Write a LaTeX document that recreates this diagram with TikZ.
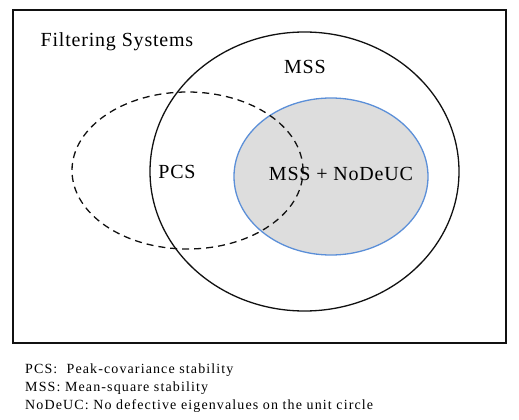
\documentclass[tikz,border=0pt]{standalone}
\usepackage{fontspec}
\setmainfont{Liberation Serif}
\newfontfamily\setfont[LetterSpace=4]{Liberation Serif}
\newfontfamily\keyfont[LetterSpace=8]{Liberation Serif}
\usepackage{tikz}
\usetikzlibrary{positioning,shapes.geometric}
\definecolor{ink}{HTML}{111111}
\definecolor{shade}{HTML}{DDDDDD}
\definecolor{rim}{HTML}{5B8FD8}
\tikzset{
  frame/.style={draw=ink, line width=1.8pt},
  setlbl/.style={font=\setfont\fontsize{20}{23}\selectfont, inner sep=0pt},
  keylbl/.style={font=\keyfont\fontsize{14}{16}\selectfont, inner sep=0pt, anchor=west},
  region/.style={ellipse, inner sep=0pt, line width=1.3pt},
}
\begin{document}
\begin{tikzpicture}[x=1pt, y=-1pt]
\useasboundingbox (0,0) rectangle (519,420);
\node[frame, minimum width=493pt, minimum height=333pt, inner sep=0pt] (univ) at (259.5,176.5) {};
\node[setlbl] (filt) at (117,42) {Filtering Systems};

% the three sets
\node[region, fill=shade, draw=rim, minimum width=194pt, minimum height=157pt] (nodeuc) at (331,176.5) {};
\node[region, draw=ink, dashed, dash pattern=on 7pt off 5pt, minimum width=231pt, minimum height=157pt] (pcs) at (187.5,170.5) {};
\node[region, draw=ink, minimum width=309pt, minimum height=279pt] (mss) at (304.5,171.5) {};

\node[setlbl] (msslbl) at (305,67) {MSS};
\node[setlbl] (pcslbl) at (177,172) {PCS};
\node[setlbl] (bothlbl) at (341,174) {MSS + NoDeUC};

% legend
\node[keylbl] (key1) at (25,370) {PCS:\ \ Peak-covariance stability};
\node[keylbl] (key2) at (25,388) {MSS: Mean-square stability};
\node[keylbl] (key3) at (25,406) {NoDeUC: No defective eigenvalues on the unit circle};
\end{tikzpicture}
\end{document}
